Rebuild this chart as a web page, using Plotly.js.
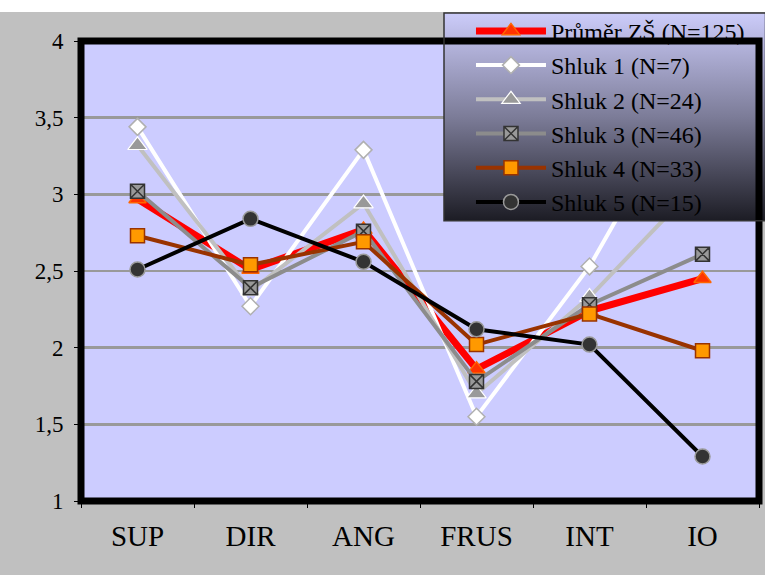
<!DOCTYPE html>
<html><head><meta charset="utf-8">
<script src="https://cdn.plot.ly/plotly-3.0.1.min.js"></script>
<style>html,body{margin:0;padding:0;background:#fff}#c{position:absolute;left:0;top:0;width:765px;height:575px}</style>
</head><body><div id="c"></div>
<script>
const categories = ['SUP','DIR','ANG','FRUS','INT','IO'];
const prumer = [2.97, 2.51, 2.77, 1.86, 2.24, 2.45];
const shluk1 = [3.44, 2.27, 3.29, 1.55, 2.53, 3.82];
const shluk2 = [3.32, 2.37, 2.94, 1.70, 2.33, 3.10];
const shluk3 = [3.02, 2.39, 2.76, 1.78, 2.28, 2.61];
const shluk4 = [2.73, 2.54, 2.69, 2.02, 2.22, 1.98];
const shluk5 = [2.51, 2.84, 2.56, 2.12, 2.02, 1.29];
const names = ['Průměr ZŠ (N=125)','Shluk 1 (N=7)','Shluk 2 (N=24)','Shluk 3 (N=46)','Shluk 4 (N=33)','Shluk 5 (N=15)'];
const yTicks = [1, 1.5, 2, 2.5, 3, 3.5, 4];

const serif = '"Liberation Serif", "Times New Roman", serif';
const traces = [
  {x: categories, y: prumer, name: names[0], mode: 'lines+markers', legendgroup: 'g0',
   line: {color: '#ff0000', width: 7},
   marker: {symbol: 'triangle-up', size: 15, color: '#ff3300', line: {color: '#ff6600', width: 1.5}}},
  {x: categories, y: shluk1, name: names[1], mode: 'lines+markers', legendgroup: 'g1',
   line: {color: '#ffffff', width: 4},
   marker: {symbol: 'diamond', size: 13, color: '#ffffff', line: {color: '#b0b0b0', width: 1.5}}},
  {x: categories, y: shluk2, name: names[2], mode: 'lines+markers', legendgroup: 'g2',
   line: {color: '#c0c0c0', width: 4},
   marker: {symbol: 'triangle-up', size: 17, color: '#999999', line: {color: '#ffffff', width: 1.2}}},
  {x: categories, y: shluk3, name: names[3], mode: 'lines+markers', legendgroup: 'g3',
   line: {color: '#8c8c8c', width: 4},
   marker: {symbol: 'square-x', size: 14, color: '#999999', line: {color: '#333333', width: 1.5}}},
  {x: categories, y: shluk4, name: names[4], mode: 'lines+markers', legendgroup: 'g4',
   line: {color: '#993300', width: 4},
   marker: {symbol: 'square', size: 14, color: '#ff9900', line: {color: '#993300', width: 1.5}}},
  {x: categories, y: shluk5, name: names[5], mode: 'lines+markers', legendgroup: 'g5',
   line: {color: '#000000', width: 4},
   marker: {symbol: 'circle', size: 15, color: '#333333', line: {color: '#999999', width: 1.5}}}
];

const gradSvg = '<svg xmlns="http://www.w3.org/2000/svg" width="100" height="100" preserveAspectRatio="none"><defs><linearGradient id="g" x1="0" y1="0" x2="0" y2="1"><stop offset="0" stop-color="#ccccfa"/><stop offset="0.5" stop-color="#7c7c98"/><stop offset="1" stop-color="#1c1c24"/></linearGradient></defs><rect width="100" height="100" fill="url(#g)"/></svg>';
const gradUri = 'data:image/svg+xml;base64,' + btoa(gradSvg);

const layout = {
  width: 765, height: 575,
  paper_bgcolor: '#ffffff',
  plot_bgcolor: '#ccccff',
  separators: ', ',
  margin: {l: 81, r: 6, t: 41, b: 74},
  showlegend: true,
  font: {family: serif, color: '#000'},
  xaxis: {type: 'category', range: [-0.5, 5.5], tickson: 'boundaries', ticks: 'outside', ticklen: 6,
          tickcolor: '#000', tickwidth: 1, showgrid: false, zeroline: false, showline: false,
          tickfont: {family: serif, size: 29, color: '#000'}, ticklabelstandoff: 15, fixedrange: true},
  yaxis: {range: [1, 4], tickvals: yTicks, ticks: 'outside', ticklen: 6, tickcolor: '#000', tickwidth: 1,
          showgrid: true, gridcolor: '#999999', gridwidth: 2.5, zeroline: false, showline: false,
          tickfont: {family: serif, size: 23, color: '#000'}, ticklabelstandoff: 6, fixedrange: true},
  legend: {x: 0.5752, y: 1.070, xanchor: 'left', yanchor: 'top', bgcolor: 'rgba(0,0,0,0)', borderwidth: 0,
           font: {family: serif, size: 24, color: '#000'}, itemwidth: 70, traceorder: 'grouped', tracegroupgap: 0},
  images: [{source: gradUri, xref: 'paper', yref: 'paper', x: 0.5354, y: 1.061, sizex: 0.474, sizey: 0.452,
            xanchor: 'left', yanchor: 'top', sizing: 'stretch', layer: 'above'}],
  shapes: [
    {type: 'rect', xref: 'paper', yref: 'paper', x0: -0.1195, x1: 1.02, y0: -0.161, y1: 1.063,
     fillcolor: '#c0c0c0', line: {width: 0}, layer: 'below'},
    {type: 'rect', xref: 'paper', yref: 'paper', x0: 0, x1: 1, y0: 0, y1: 1,
     fillcolor: '#ccccff', line: {width: 0}, layer: 'below'},
    {type: 'rect', xref: 'paper', yref: 'paper', x0: 0, x1: 1, y0: 0, y1: 1,
     line: {color: '#000', width: 7}, layer: 'above'},
    {type: 'rect', xref: 'paper', yref: 'paper', x0: 0.5354, x1: 1.0096, y0: 0.609, y1: 1.061,
     line: {color: '#333333', width: 1.5}, layer: 'above'}
  ]
};
Plotly.newPlot('c', traces, layout, {displayModeBar: false, staticPlot: true});
</script></body></html>
